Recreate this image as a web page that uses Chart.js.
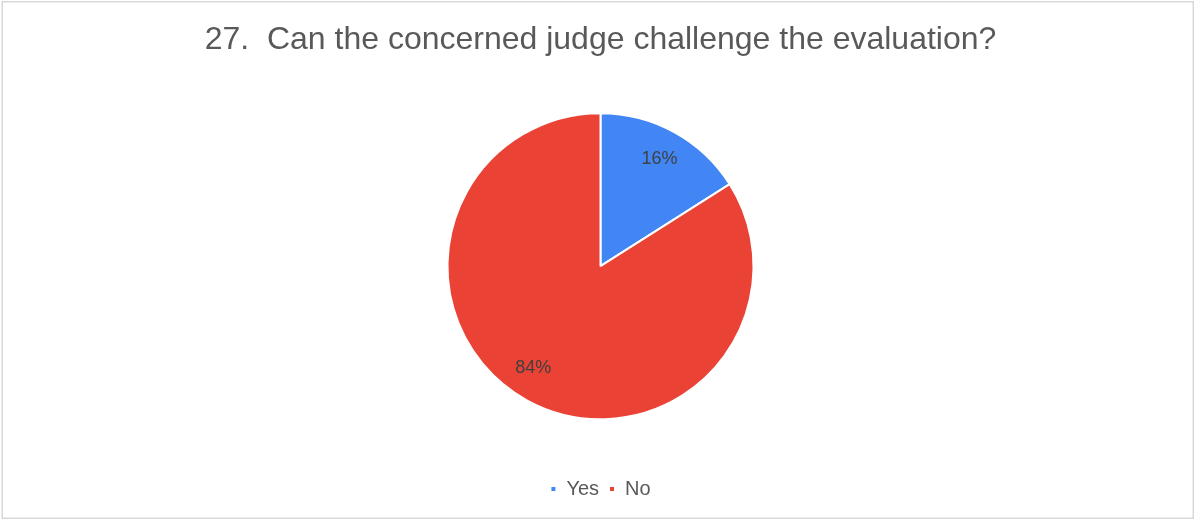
<!DOCTYPE html>
<html>
<head>
<meta charset="utf-8">
<script src="https://cdn.jsdelivr.net/npm/chart.js@4"></script>
<style>
  html, body { margin: 0; padding: 0; background: #fff; }
  #wrap { width: 1195px; height: 520px; position: relative; }
</style>
</head>
<body>
<div id="wrap"><canvas id="pieChart" width="1195" height="520"></canvas></div>
<script>
const titleText = '27.  Can the concerned judge challenge the evaluation?';
const categories = ['Yes', 'No'];
const shares = [16, 84];
const sliceColors = ['#4285F4', '#EA4335'];

const fontFamily = '"Liberation Sans", Arial, sans-serif';

// frame around the whole chart
const framePlugin = {
  id: 'frame',
  beforeDraw(chart) {
    const ctx = chart.ctx;
    ctx.save();
    ctx.fillStyle = '#ffffff';
    ctx.fillRect(0, 0, chart.width, chart.height);
    ctx.strokeStyle = '#d9d9d9';
    ctx.lineWidth = 1.5;
    ctx.strokeRect(2.25, 1.75, chart.width - 4, chart.height - 3.5);
    ctx.restore();
  }
};

// percentage labels inside the slices (bigger slice label sits a bit further round, like Excel's best fit)
const sliceLabels = {
  id: 'sliceLabels',
  afterDatasetsDraw(chart) {
    const ctx = chart.ctx;
    const meta = chart.getDatasetMeta(0);
    ctx.save();
    ctx.font = '18px ' + fontFamily;
    ctx.fillStyle = '#404040';
    ctx.textAlign = 'center';
    ctx.textBaseline = 'middle';
    meta.data.forEach((arc, i) => {
      const p = arc.getProps(['x', 'y', 'startAngle', 'endAngle', 'outerRadius'], true);
      let mid = (p.startAngle + p.endAngle) / 2;
      if (i === 1) mid += 0.08;
      const r = p.outerRadius * 0.8;
      ctx.fillText(shares[i] + '%', p.x + Math.cos(mid) * r, p.y + Math.sin(mid) * r);
    });
    ctx.restore();
  }
};

new Chart(document.getElementById('pieChart'), {
  type: 'pie',
  data: {
    labels: categories,
    datasets: [{
      data: shares,
      backgroundColor: sliceColors,
      borderColor: '#ffffff',
      borderWidth: 2,
      radius: 153
    }]
  },
  options: {
    responsive: false,
    animation: false,
    layout: { padding: { left: 6, right: 0, top: 0, bottom: 11 } },
    plugins: {
      title: {
        display: true,
        text: titleText,
        color: '#595959',
        font: { family: fontFamily, size: 32, weight: 'normal' },
        padding: { top: 21, bottom: 4 }
      },
      legend: {
        position: 'bottom',
        labels: {
          color: '#595959',
          font: { family: fontFamily, size: 20 },
          boxWidth: 6,
          boxHeight: 6,
          padding: 10
        }
      },
      tooltip: { enabled: false }
    }
  },
  plugins: [framePlugin, sliceLabels]
});
</script>
</body>
</html>
